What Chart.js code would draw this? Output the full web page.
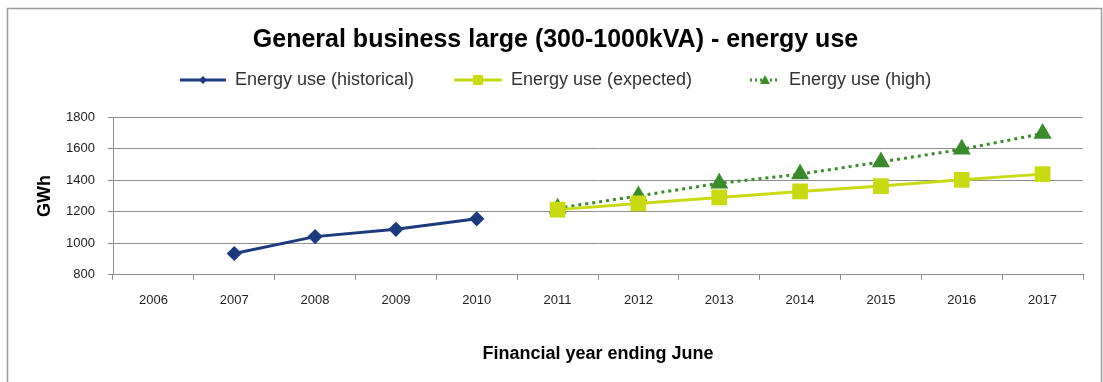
<!DOCTYPE html>
<html>
<head>
<meta charset="utf-8">
<title>General business large - energy use</title>
<script src="https://cdn.jsdelivr.net/npm/chart.js@4.4.1/dist/chart.umd.min.js"></script>
<style>
  html, body { margin: 0; padding: 0; background: #fff; }
  #wrap { width: 1103px; height: 382px; position: relative; }
</style>
</head>
<body>
<div id="wrap"><canvas id="energyChart"></canvas></div>
<script>
// financial years and GWh series
var years = ['2006', '2007', '2008', '2009', '2010', '2011', '2012', '2013', '2014', '2015', '2016', '2017'];
var historical = [null, 935, 1042, 1088, 1155, null, null, null, null, null, null, null];
var expected = [null, null, null, null, null, 1213, 1252, 1290, 1328, 1362, 1402, 1438];
var high = [null, null, null, null, null, 1222, 1300, 1380, 1438, 1515, 1595, 1695];
var yTicks = [800, 1000, 1200, 1400, 1600, 1800];

var navy = '#1c3a7e';
var lime = '#c9da12';
var green = '#3b8b2c';
var gridColor = '#8e8e8e';
var font = 'Liberation Sans, Arial, sans-serif';

// legend swatch: line with a marker, drawn in the right part of a wider box
function legendIcon(color, marker, dashed, lineW) {
  var w = 78;
  var c = document.createElement('canvas');
  c.width = w; c.height = 14;
  var g = c.getContext('2d');
  var x0 = w - lineW;
  g.strokeStyle = color;
  g.fillStyle = color;
  g.lineWidth = 3;
  if (dashed) g.setLineDash([2, 3]);
  g.beginPath();
  g.moveTo(x0, 7); g.lineTo(w, 7);
  g.stroke();
  g.setLineDash([]);
  var cx = x0 + lineW / 2;
  g.beginPath();
  if (marker === 'diamond') {
    g.moveTo(cx, 3); g.lineTo(cx + 4, 7); g.lineTo(cx, 11); g.lineTo(cx - 4, 7);
  } else if (marker === 'square') {
    g.rect(cx - 5, 2, 10, 10);
  } else {
    g.moveTo(cx, 2); g.lineTo(cx + 5, 11); g.lineTo(cx - 5, 11);
  }
  g.closePath();
  g.fill();
  return c;
}

var frame = {
  id: 'frame',
  // the first swatch has blank space on its left, pull the legend back to centre
  afterLayout: function(chart) {
    chart.legend.left -= 16;
    chart.legend.right -= 16;
  },
  beforeDraw: function(chart) {
    var ctx = chart.ctx;
    ctx.save();
    ctx.fillStyle = '#fff';
    ctx.fillRect(0, 0, chart.width, chart.height);
    ctx.strokeStyle = '#9a9a9a';
    ctx.lineWidth = 1.5;
    ctx.strokeRect(7.5, 8.5, 1094, 400);
    ctx.restore();
  }
};

var icons = [
  legendIcon(navy, 'diamond', false, 46),
  legendIcon(lime, 'square', false, 48),
  legendIcon(green, 'triangle', true, 30)
];

new Chart(document.getElementById('energyChart'), {
  type: 'line',
  data: {
    labels: years,
    datasets: [{
      label: 'Energy use (historical)',
      data: historical,
      borderColor: navy,
      backgroundColor: navy,
      borderWidth: 3,
      pointStyle: 'rectRot',
      pointRadius: 5.5,
      pointHoverRadius: 5.5
    }, {
      label: 'Energy use (expected)',
      data: expected,
      borderColor: lime,
      backgroundColor: lime,
      borderWidth: 3,
      pointStyle: 'rect',
      pointRadius: 9,
      pointHoverRadius: 9
    }, {
      label: 'Energy use (high)',
      data: high,
      borderColor: green,
      backgroundColor: green,
      borderWidth: 3,
      borderDash: [3, 4],
      pointStyle: 'triangle',
      pointRadius: 7.5,
      pointHoverRadius: 7.5
    }]
  },
  options: {
    responsive: true,
    maintainAspectRatio: false,
    animation: false,
    layout: { padding: { left: 28, right: 20, top: 8, bottom: 17 } },
    plugins: {
      title: {
        display: true,
        text: 'General business large (300-1000kVA) - energy use',
        color: '#000',
        font: { family: font, size: 25, weight: 'bold' },
        padding: { top: 17, bottom: 6 }
      },
      // empty spacer between the legend and the plot
      subtitle: {
        display: true,
        text: ' ',
        weight: 500,
        font: { size: 1, lineHeight: 1 },
        padding: { top: 17, bottom: 0 }
      },
      legend: {
        position: 'top',
        labels: {
          color: '#333',
          font: { family: font, size: 18 },
          usePointStyle: true,
          pointStyleWidth: 78,
          padding: 10,
          generateLabels: function(chart) {
            return chart.data.datasets.map(function(ds, i) {
              return {
                text: ds.label,
                pointStyle: icons[i],
                fillStyle: ds.borderColor,
                strokeStyle: ds.borderColor,
                lineWidth: 0,
                fontColor: '#333',
                datasetIndex: i
              };
            });
          }
        }
      },
      tooltip: { enabled: false }
    },
    scales: {
      x: {
        offset: true,
        grid: {
          offset: true,
          drawOnChartArea: false,
          drawTicks: true,
          tickLength: 5,
          color: gridColor
        },
        border: { color: gridColor, width: 1 },
        ticks: {
          color: '#222',
          padding: 13,
          maxRotation: 0,
          font: { family: font, size: 13 }
        },
        title: {
          display: true,
          text: 'Financial year ending June',
          color: '#000',
          font: { family: font, size: 18, weight: 'bold' },
          padding: { top: 22, bottom: 0 }
        }
      },
      y: {
        min: 800,
        max: 1800,
        afterBuildTicks: function(scale) {
          scale.ticks = yTicks.map(function(v) { return { value: v }; });
        },
        afterFit: function(scale) { scale.width = 85; },
        grid: {
          color: gridColor,
          drawTicks: true,
          tickLength: 5
        },
        border: { color: gridColor, width: 1 },
        ticks: {
          color: '#222',
          padding: 13,
          font: { family: font, size: 13 },
          callback: function(v) { return String(v); }
        },
        title: {
          display: true,
          text: 'GWh',
          color: '#000',
          font: { family: font, size: 18, weight: 'bold' },
          padding: { top: 6, bottom: 0 }
        }
      }
    }
  },
  plugins: [frame]
});
</script>
</body>
</html>
